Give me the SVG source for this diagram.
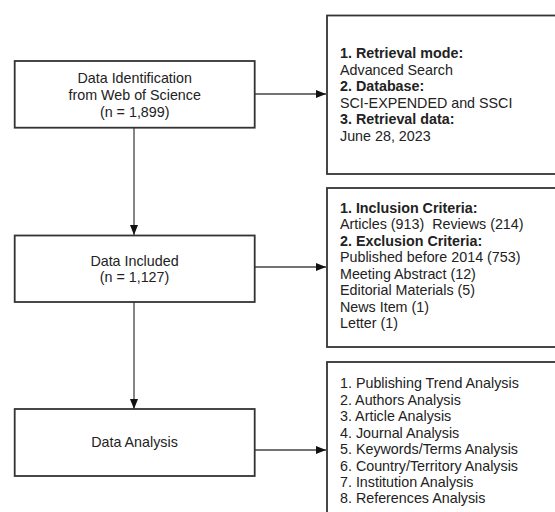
<svg xmlns="http://www.w3.org/2000/svg" width="555" height="512" viewBox="0 0 555 512">
<defs>
<marker id="ah" markerWidth="10" markerHeight="8" refX="10" refY="4" orient="auto" markerUnits="userSpaceOnUse">
<path d="M0,0 L10,4 L0,8 Z" fill="#111"/>
</marker>
<style>
.box{fill:#fff;stroke:#333;stroke-width:1.8}
.t{font-family:"Liberation Sans",Arial,sans-serif;font-size:14.3px;fill:#222}
.c{text-anchor:middle}
.b{font-weight:bold}
.edge{stroke:#444;stroke-width:1.3;fill:none;marker-end:url(#ah)}
</style>
</defs>
<rect width="555" height="512" fill="#fff"/>
<g id="connectors">
<line class="edge" x1="134" y1="128" x2="134" y2="235"/>
<line class="edge" x1="134" y1="302" x2="134" y2="409"/>
<line class="edge" x1="255" y1="94" x2="326" y2="94"/>
<line class="edge" x1="254" y1="267" x2="326" y2="267"/>
<line class="edge" x1="255" y1="450" x2="326" y2="450"/>
</g>
<g id="n1">
<rect class="box" x="14.7" y="61" width="240" height="66.7"/>
<text class="t c" x="134.7" y="83.3">Data Identification</text>
<text class="t c" x="134.7" y="100">from Web of Science</text>
<text class="t c" x="134.7" y="116.7">(n = 1,899)</text>
</g>
<g id="n2">
<rect class="box" x="14.7" y="235.5" width="240" height="66.5"/>
<text class="t c" x="134.5" y="265.7">Data Included</text>
<text class="t c" x="134.5" y="282.3">(n = 1,127)</text>
</g>
<g id="n3">
<rect class="box" x="14.7" y="409" width="240" height="67"/>
<text class="t c" x="134.5" y="447.3">Data Analysis</text>
</g>
<g id="r1">
<rect class="box" x="327" y="15.5" width="240" height="158.5"/>
<text class="t b" x="340" y="58.3">1. Retrieval mode:</text>
<text class="t" x="340" y="75">Advanced Search</text>
<text class="t b" x="340" y="91.3">2. Database:</text>
<text class="t" x="340" y="107.7">SCI-EXPENDED and SSCI</text>
<text class="t b" x="340" y="124.2">3. Retrieval data:</text>
<text class="t" x="340" y="140.7">June 28, 2023</text>
</g>
<g id="r2">
<rect class="box" x="327" y="188" width="240" height="159"/>
<text class="t b" x="340" y="213">1. Inclusion Criteria:</text>
<text class="t" x="340" y="229.4" xml:space="preserve">Articles (913)  Reviews (214)</text>
<text class="t b" x="340" y="245.8">2. Exclusion Criteria:</text>
<text class="t" x="340" y="262.3">Published before 2014 (753)</text>
<text class="t" x="340" y="278.7">Meeting Abstract (12)</text>
<text class="t" x="340" y="295.1">Editorial Materials (5)</text>
<text class="t" x="340" y="311.6">News Item (1)</text>
<text class="t" x="340" y="328">Letter (1)</text>
</g>
<g id="r3">
<rect class="box" x="327" y="362" width="240" height="170"/>
<text class="t" x="340" y="388.3">1. Publishing Trend Analysis</text>
<text class="t" x="340" y="404.8">2. Authors Analysis</text>
<text class="t" x="340" y="421.2">3. Article Analysis</text>
<text class="t" x="340" y="437.7">4. Journal Analysis</text>
<text class="t" x="340" y="454.1">5. Keywords/Terms Analysis</text>
<text class="t" x="340" y="470.5">6. Country/Territory Analysis</text>
<text class="t" x="340" y="487">7. Institution Analysis</text>
<text class="t" x="340" y="503.4">8. References Analysis</text>
</g>
</svg>
